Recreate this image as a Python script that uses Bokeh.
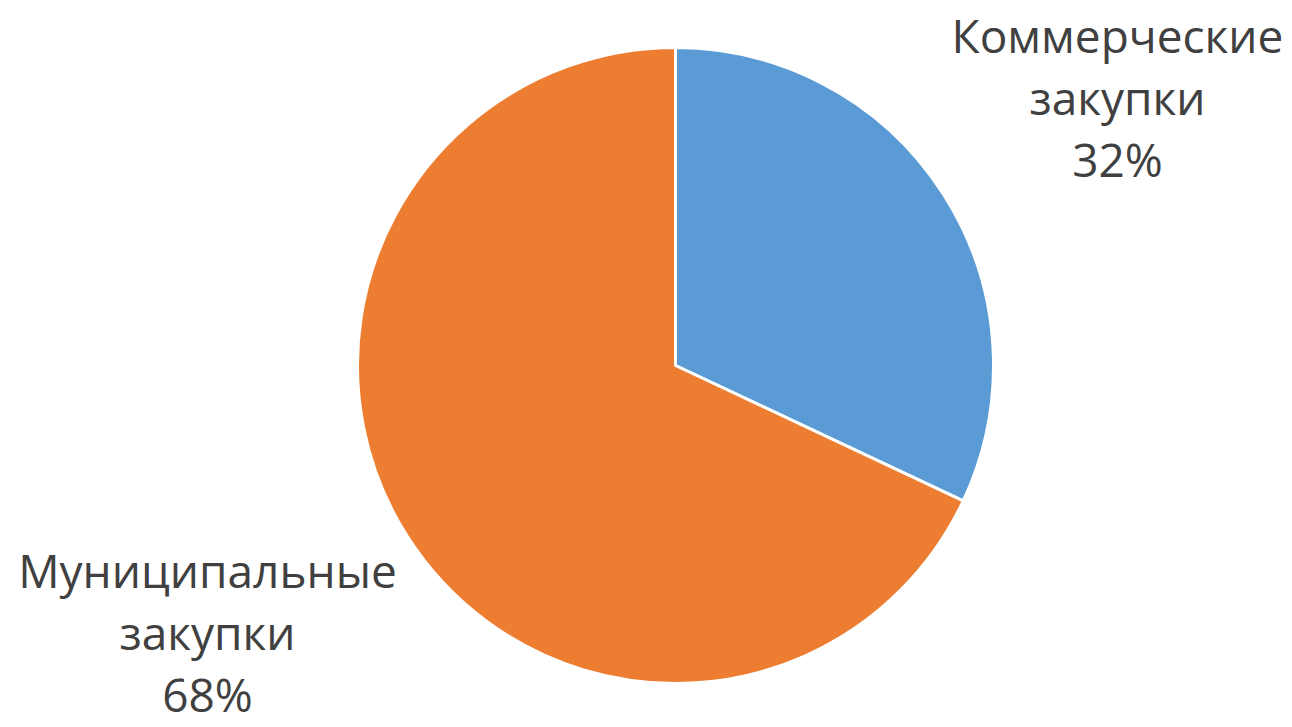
import math
from bokeh.plotting import figure
from bokeh.models import Range1d, ColumnDataSource
from bokeh.core.properties import value
from bokeh.embed import file_html
from bokeh.resources import INLINE

categories = ["Коммерческие\nзакупки", "Муниципальные\nзакупки"]
shares = [32, 68]
colors = ["#5B9BD5", "#ED7D31"]

W, H = 1292, 727
p = figure(width=W, height=H, output_backend="svg", toolbar_location=None,
           x_range=Range1d(0, W), y_range=Range1d(0, H), min_border=0)
p.axis.visible = False
p.grid.visible = False
p.outline_line_color = None
p.background_fill_color = "white"
p.border_fill_color = "white"

cx, cy, r = 675, H - 365, 318
total = sum(shares)
starts, ends = [], []
ang = math.pi / 2
for s in shares:
    sweep = s / total * 2 * math.pi
    ends.append(ang)
    starts.append(ang - sweep)
    ang -= sweep

src = ColumnDataSource(dict(start=starts, end=ends, color=colors))
p.wedge(x=cx, y=cy, radius=r, start_angle="start", end_angle="end",
        fill_color="color", line_color="white", line_width=3, source=src)

labels = [f"{c}\n{s}%" for c, s in zip(categories, shares)]
lx = [1117, 207]
ly = [H - 96, H - 631]
tsrc = ColumnDataSource(dict(x=lx, y=ly, text=labels))
p.text(x="x", y="y", text="text", source=tsrc, text_align="center",
       text_baseline="middle", text_font=value("Open Sans"),
       text_font_size="46px", text_color="#404040", text_line_height=1.0)

open("out.html", "w").write(file_html(p, INLINE))
